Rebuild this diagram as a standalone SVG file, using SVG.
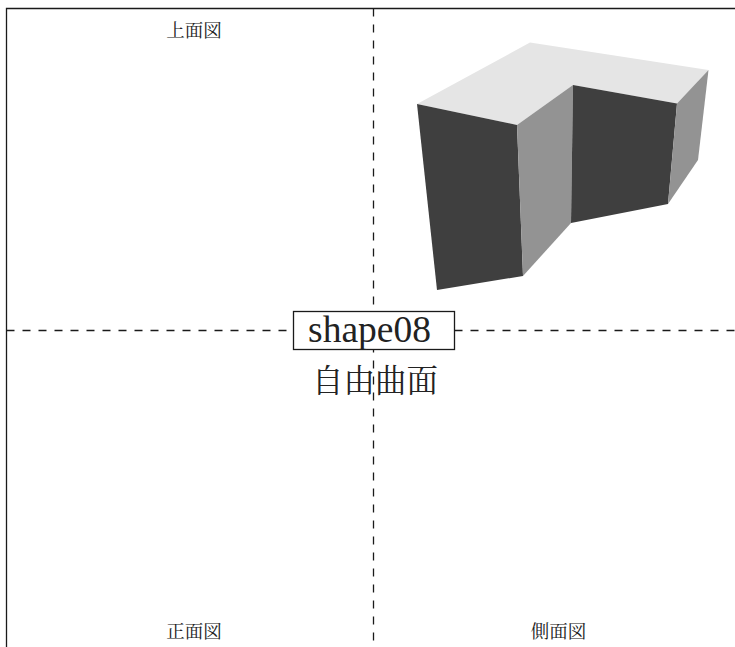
<svg xmlns="http://www.w3.org/2000/svg" width="735" height="647" viewBox="0 0 735 647">
<style>
.frame{fill:none;stroke:#1a1a1a;stroke-width:1.3}
.dash{fill:none;stroke:#1a1a1a;stroke-width:1.3;stroke-dasharray:8 8}
.lab{font-family:"Liberation Serif","Noto Serif CJK JP","Noto Sans CJK JP",serif;fill:#222;text-anchor:middle}
.top{fill:#e5e5e5}.dark{fill:#3f3f3f}.mid{fill:#939393}
</style>
<rect width="735" height="647" fill="#fff"/>
<g id="connectors">
<path class="frame" d="M6.5 647V8.5H735"/>
<path class="dash" d="M373.5 8.500V647"/>
<path class="dash" d="M6.500 330.500H735"/>
</g>
<g id="solid">
<polygon class="top" points="417,104 530,42.500 708.500,70 677,103.500 573,85 517,125"/>
<polygon class="dark" points="417,104 517,125 523,276 437,290"/>
<polygon class="mid" points="517,125 573,85 571,223 523,276"/>
<polygon class="dark" points="573,85 677,103.500 668,204 571,223"/>
<polygon class="mid" points="677,103.500 708.500,70 698,160 668,204"/>
</g>
<g id="title">
<rect x="293.500" y="311.500" width="161" height="38" fill="#fff" stroke="#1a1a1a" stroke-width="1.300"/>
<text class="lab" x="369.500" y="342" font-size="37.500">shape08</text>
<text class="lab" x="375" y="392" font-size="31.500">自由曲面</text>
</g>
<g id="label-top"><text class="lab" x="194" y="37" font-size="18.500">上面図</text></g>
<g id="label-front"><text class="lab" x="194" y="638" font-size="18.500">正面図</text></g>
<g id="label-side"><text class="lab" x="558.500" y="638" font-size="18.500">側面図</text></g>
</svg>
